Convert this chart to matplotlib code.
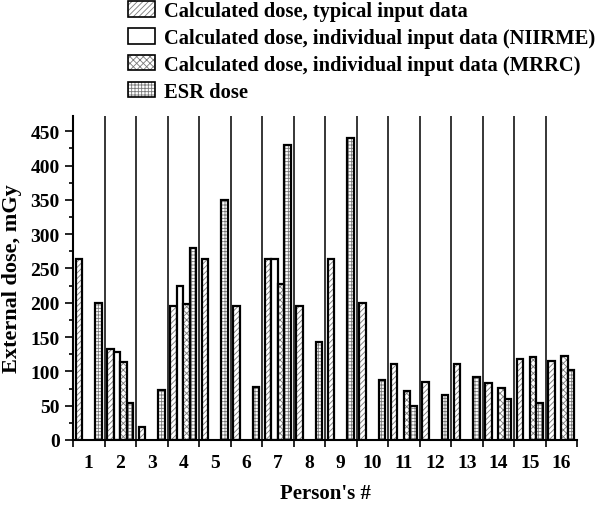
import numpy as np
import matplotlib
matplotlib.use('Agg')
import matplotlib.pyplot as plt
from matplotlib.patches import Patch

plt.rcParams['font.family'] = 'Liberation Serif'
plt.rcParams['font.weight'] = 'bold'
plt.rcParams['hatch.linewidth'] = 0.6

nan = np.nan
persons = list(range(1, 17))
typical = [264, 132, 19, 196, 264, 196, 264, 196, 264, 200, 111, 84, 111, 83, 118, 115]
niirme = [nan, 128, nan, 224, nan, nan, 264, nan, nan, nan, nan, nan, nan, nan, nan, nan]
mrrc = [nan, 113, nan, 198, nan, nan, 227, nan, nan, nan, 71, nan, nan, 76, 121, 122]
esr = [200, 54, 73, 280, 350, 77, 430, 143, 440, 88, 50, 66, 92, 60, 54, 102]

labels = ['Calculated dose, typical input data',
          'Calculated dose, individual input data (NIIRME)',
          'Calculated dose, individual input data (MRRC)',
          'ESR dose']
series = [typical, niirme, mrrc, esr]
hatches = ['//////', '', 'xxxxx', '+++++']
hatch_col = '#7a7a7a'

fig = plt.figure(figsize=(6, 5.06), dpi=100)
ax = fig.add_axes([0.1217, 0.1285, 0.84, 0.64])

x = np.array(persons)
w = 0.205
handles = []
for i, (vals, h) in enumerate(zip(series, hatches)):
    pos = x + (i - 1.5) * w
    ax.bar(pos, vals, w, color='white', edgecolor=hatch_col, hatch=h, linewidth=0)
    ax.bar(pos, vals, w, color='none', edgecolor='black', linewidth=1.6)
    handles.append((Patch(facecolor='white', edgecolor=hatch_col, hatch=h, linewidth=0),
                    Patch(facecolor='none', edgecolor='black', linewidth=1.2)))

for b in np.arange(1.5, 16.5, 1):
    ax.axvline(b, color='black', lw=1.1)

ax.set_xlim(0.5, 16.5)
ax.set_ylim(0, 472)
ax.set_xticks(persons)
ax.set_xticklabels([str(p) for p in persons])
ax.set_xticks(np.arange(0.5, 17, 1), minor=True)
ax.tick_params(axis='x', which='major', length=0, labelsize=14, pad=10)
ax.tick_params(axis='x', which='minor', length=5, width=1.2, direction='out')
ax.set_yticks(np.arange(0, 451, 50))
ax.set_yticks(np.arange(0, 451, 25), minor=True)
ax.tick_params(axis='y', which='major', length=6, width=1.2, labelsize=14, direction='out')
ax.tick_params(axis='y', which='minor', length=3, width=1.2, direction='out')
for s in ['top', 'right']:
    ax.spines[s].set_visible(False)
for s in ['left', 'bottom']:
    ax.spines[s].set_linewidth(1.5)

ax.set_ylabel('External dose, mGy', fontsize=16, fontweight='bold', labelpad=6)
ax.set_xlabel("Person's #", fontsize=15, fontweight='bold', labelpad=9)

fig.legend(handles, labels, loc='upper left', bbox_to_anchor=(0.2, 1.012),
           frameon=False, fontsize=14.8, handlelength=1.3, handleheight=0.8,
           handletextpad=0.45, labelspacing=0.33, borderaxespad=0)

fig.savefig('out.png', dpi=100)
